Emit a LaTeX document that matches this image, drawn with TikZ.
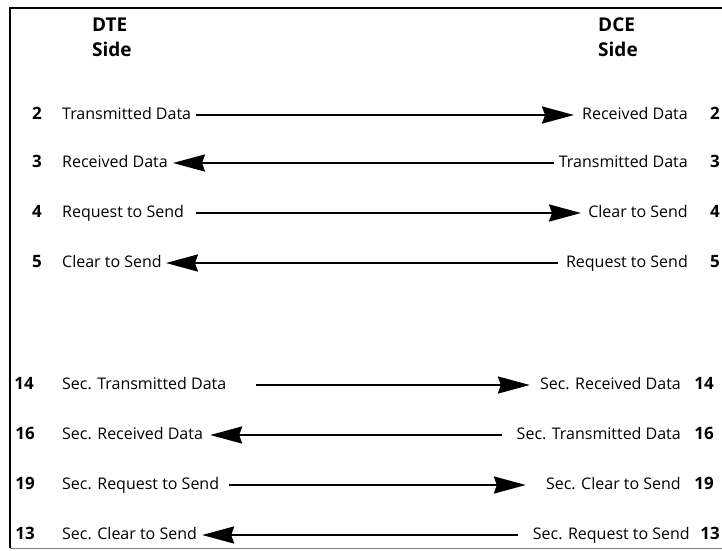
\documentclass[tikz,border=0pt]{standalone}
\usepackage{fontspec}
\setmainfont{Open Sans}
\usetikzlibrary{arrows.meta}
\begin{document}
\begin{tikzpicture}[x=1pt,y=-1pt,
  lab/.style={font=\fontsize{16}{18}\selectfont, inner sep=0pt, text height=11pt, text depth=3pt},
  num/.style={font=\fontsize{17}{18}\selectfont\bfseries, inner sep=0pt, text height=11pt, text depth=3pt},
  head/.style={font=\fontsize{19}{20}\selectfont\bfseries, inner sep=0pt, anchor=west},
  sig/.style={line width=2.4pt, -{Stealth[length=32pt,width=17pt,inset=3pt]}},
  frame/.style={line width=1.8pt},
]
\useasboundingbox (0,0) rectangle (722,550);
% frame
\coordinate (ftr) at (722,8);
\coordinate (ftl) at (10,8);
\coordinate (fbl) at (10,548);
\coordinate (fbr) at (722,548);
\draw[frame] (ftr) -- (ftl) -- (fbl);
\draw[line width=0.8pt, gray] (fbl) -- (fbr);
% headings
\node[head] (dte) at (92,25) {DTE};
\node[head] (dtes) at (92,49) {Side};
\node[head] (dce) at (598,25) {DCE};
\node[head] (dces) at (598,49) {Side};
% rows
\foreach \n/\y/\lx/\a/\la/\rx/\rb/\b in {
  2/115/37/2/Transmitted Data/688/Received Data/715,
  3/163/37/3/Received Data/688/Transmitted Data/715,
  4/213/37/4/Request to Send/688/Clear to Send/715,
  5/263/37/5/Clear to Send/688/Request to Send/715,
  14/385/24/14/Sec. Transmitted Data/681/Sec. Received Data/704,
  16/435/25/16/Sec. Received Data/681/Sec. Transmitted Data/704,
  19/485/25/19/Sec. Request to Send/681/Sec. Clear to Send/704,
  13/535/25/13/Sec. Clear to Send/690/Sec. Request to Send/710}{
  \node[num] (ln\n) at (\lx,\y) {\a};
  \node[lab, anchor=west] (ll\n) at (62,\y) {\la};
  \node[lab, anchor=east] (rl\n) at (\rx,\y) {\rb};
  \node[num] (rn\n) at (\b,\y) {\n};
}
% connectors
\draw[sig] ([xshift=5pt]ll2.east) -- ([xshift=-8pt]rl2.west);
\draw[sig] ([xshift=-5pt]rl3.west) -- ([xshift=5pt]ll3.east);
\draw[sig] ([xshift=12pt]ll4.east) -- ([xshift=-7pt]rl4.west);
\draw[sig] ([xshift=-8pt]rl5.west) -- ([xshift=4pt]ll5.east);
\draw[sig] ([xshift=30pt]ll14.east) -- ([xshift=-10pt]rl14.west);
\draw[sig] ([xshift=-15pt]rl16.west) -- ([xshift=7pt]ll16.east);
\draw[sig] ([xshift=10pt]ll19.east) -- ([xshift=-20pt]rl19.west);
\draw[sig] ([xshift=-15pt]rl13.west) -- ([xshift=5pt]ll13.east);
\end{tikzpicture}
\end{document}
